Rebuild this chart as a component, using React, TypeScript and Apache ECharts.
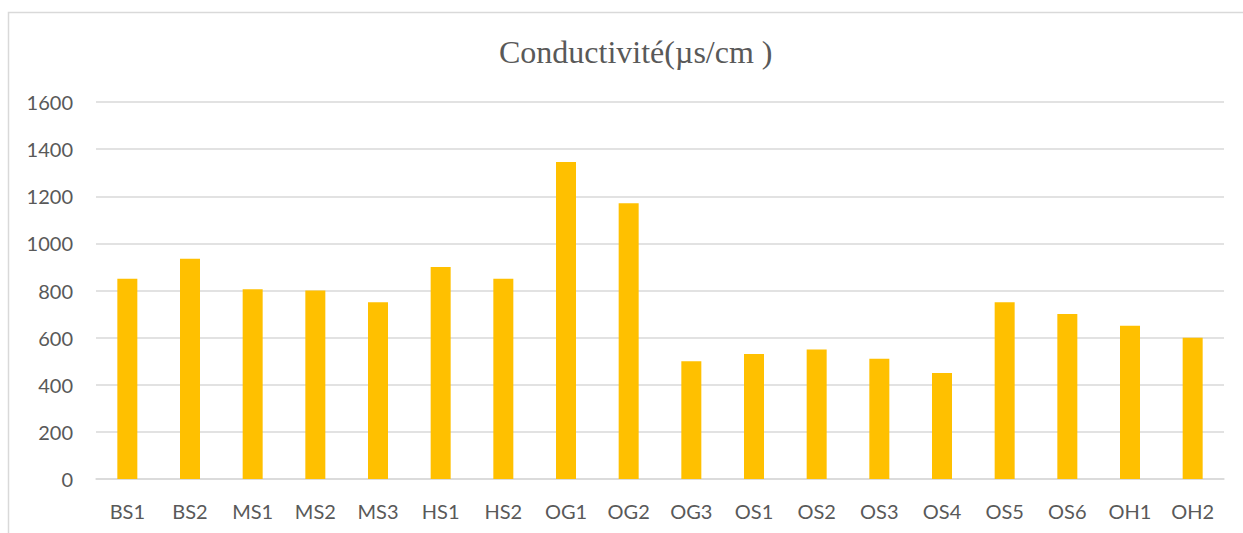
import React, { useEffect, useRef } from "react";
import * as echarts from "echarts";

const categories = ["BS1", "BS2", "MS1", "MS2", "MS3", "HS1", "HS2", "OG1", "OG2", "OG3", "OS1", "OS2", "OS3", "OS4", "OS5", "OS6", "OH1", "OH2"];
const conductivity = [850, 935, 805, 800, 750, 900, 850, 1345, 1170, 500, 530, 550, 510, 450, 750, 700, 650, 600];
const yTicks = { min: 0, max: 1600, interval: 200 };
const titleText = "Conductivité(µs/cm )";

export default function App() {
  const ref = useRef<HTMLDivElement>(null);
  useEffect(() => {
    document.body.style.margin = "0";
    const chart = echarts.init(ref.current!, null, { renderer: "svg" });
    chart.setOption({
      animation: false,
      backgroundColor: "#ffffff",
      title: {
        text: titleText,
        left: 494,
        top: 31,
        textStyle: { fontFamily: "Liberation Serif", fontSize: 32, fontWeight: "normal", color: "#595959" },
      },
      graphic: [
        {
          type: "rect",
          shape: { x: 8.5, y: 12.5, width: 1400, height: 700 },
          style: { fill: "none", stroke: "#d9d9d9", lineWidth: 1.5 },
          silent: true,
        },
      ],
      grid: { left: 96, right: 19, top: 102, bottom: 54, containLabel: false },
      xAxis: {
        type: "category",
        data: categories,
        axisLine: { show: true, lineStyle: { color: "#d9d9d9", width: 1.5 } },
        axisTick: { show: false },
        axisLabel: { color: "#595959", fontFamily: "Lato", fontSize: 20, margin: 22, interval: 0 },
      },
      yAxis: {
        type: "value",
        min: yTicks.min,
        max: yTicks.max,
        interval: yTicks.interval,
        axisLine: { show: false },
        axisTick: { show: false },
        splitLine: { lineStyle: { color: "#d9d9d9", width: 1.5 } },
        axisLabel: {
          color: "#595959",
          fontFamily: "Lato",
          fontSize: 20,
          margin: 23,
          formatter: (v: number) => String(v),
        },
      },
      series: [
        {
          type: "bar",
          data: conductivity,
          barWidth: 20,
          itemStyle: { color: "#FFC000" },
        },
      ],
    });
    return () => chart.dispose();
  }, []);
  return <div ref={ref} style={{ width: 1243, height: 533 }} />;
}
